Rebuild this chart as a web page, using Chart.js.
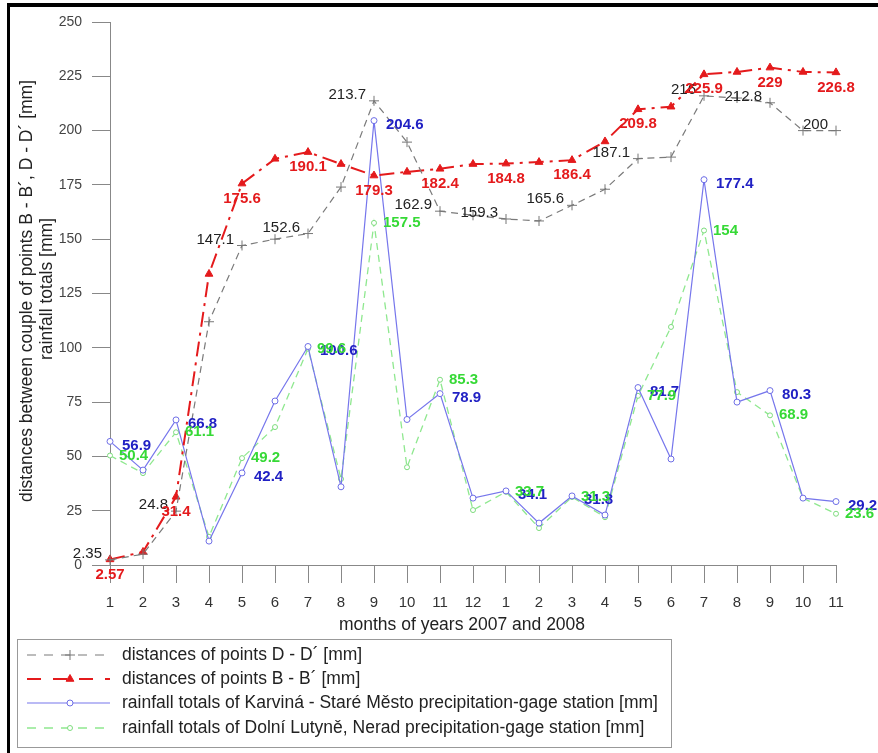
<!DOCTYPE html>
<html>
<head>
<meta charset="utf-8">
<script src="https://cdn.jsdelivr.net/npm/chart.js@4.4.1/dist/chart.umd.min.js"></script>
<style>
  html, body { margin: 0; padding: 0; background: #fff; }
  #wrap { width: 878px; height: 753px; position: relative; }
</style>
</head>
<body>
<div id="wrap"><canvas id="chart" width="878" height="753"></canvas></div>
<script>
// months of 2007 (1..12) followed by months of 2008 (1..11)
const months = ["1","2","3","4","5","6","7","8","9","10","11","12",
                "1","2","3","4","5","6","7","8","9","10","11"]

// distances of points D - D' [mm]
const distDD = [2.35, 5, 24.8, 112, 147.1, 150, 152.6, 174, 213.7, 194.7, 162.9, 161,
                159.3, 158.4, 165.6, 173, 187.1, 187.8, 216, 215, 212.8, 200, 200]
// distances of points B - B' [mm]
const distBB = [2.57, 6, 31.4, 134, 175.6, 187, 190.1, 184.6, 179.3, 181, 182.4, 184.6,
                184.8, 185.5, 186.4, 195, 209.8, 211, 225.9, 227, 229, 227, 226.8]
// rainfall totals, Karviná - Staré Město
const rainKarvina = [56.9, 43.7, 66.8, 11, 42.4, 75.5, 100.6, 36, 204.6, 67, 78.9, 30.8,
                     34.1, 19.3, 31.8, 23, 81.7, 48.8, 177.4, 75, 80.3, 30.8, 29.2]
// rainfall totals, Dolní Lutyně, Nerad
const rainLutyne = [50.4, 42.3, 61.1, 13, 49.2, 63.5, 99.6, 39.6, 157.5, 45, 85.3, 25.3,
                    33.7, 17, 31.3, 22, 77.9, 109.6, 154, 79.6, 68.9, 30.8, 23.6]

const yTicks = [0, 25, 50, 75, 100, 125, 150, 175, 200, 225, 250]

const FONT = "'Liberation Sans', Arial, sans-serif"

// labels drawn next to every second point of each series
const labelStyle = [
  { color: "#222",    bold: false, align: "right",  dx: -8, dy: -6 },
  { color: "#e41a1c", bold: true,  align: "center", dx: 0,  dy: 15 },
  { color: "#2121c4", bold: true,  align: "left",   dx: 12, dy: 4 },
  { color: "#36d936", bold: true,  align: "left",   dx: 9,  dy: 0 }
]

const pointLabels = {
  id: "pointLabels",
  afterDatasetsDraw(chart) {
    const ctx = chart.ctx
    ctx.save()
    ctx.textBaseline = "middle"
    chart.data.datasets.forEach((ds, i) => {
      const st = labelStyle[i]
      const meta = chart.getDatasetMeta(i)
      ctx.fillStyle = st.color
      ctx.font = (st.bold ? "bold " : "") + "15px " + FONT
      ctx.textAlign = st.align
      meta.data.forEach((pt, k) => {
        if (k % 2 !== 0) return
        ctx.fillText(String(ds.data[k]), pt.x + st.dx, pt.y + st.dy)
      })
    })
    ctx.restore()
  }
}

const frame = {
  id: "frame",
  afterDraw(chart) {
    const ctx = chart.ctx
    ctx.save()
    // black frame (top and left)
    ctx.fillStyle = "#000"
    ctx.fillRect(7, 3, 871, 4)
    ctx.fillRect(7, 3, 3, 750)

    // axis titles
    ctx.fillStyle = "#222"
    ctx.font = "17.5px " + FONT
    ctx.textAlign = "center"
    ctx.textBaseline = "middle"
    ctx.fillText("months of years 2007 and 2008", 462, 625)
    ctx.save()
    ctx.translate(27, 291)
    ctx.rotate(-Math.PI / 2)
    ctx.fillText("distances between couple of points B - B´, D - D´ [mm]", 0, 0)
    ctx.restore()
    ctx.save()
    ctx.translate(47, 289)
    ctx.rotate(-Math.PI / 2)
    ctx.fillText("rainfall totals [mm]", 0, 0)
    ctx.restore()

    // legend box
    ctx.strokeStyle = "#999"
    ctx.lineWidth = 1
    ctx.strokeRect(17.5, 639.5, 654, 108)
    const rows = [655, 679, 703, 728]
    ctx.textAlign = "left"
    chart.data.datasets.forEach((ds, i) => {
      const y = rows[i]
      ctx.save()
      ctx.strokeStyle = ds.borderColor
      ctx.lineWidth = ds.borderWidth
      ctx.setLineDash(ds.legendDash)
      ctx.beginPath()
      ctx.moveTo(27, y)
      ctx.lineTo(110, y)
      ctx.stroke()
      ctx.setLineDash([])
      ctx.fillStyle = ds.pointBackgroundColor
      ctx.strokeStyle = ds.pointBorderColor
      ctx.lineWidth = 1
      Chart.helpers.drawPoint(ctx, { pointStyle: ds.pointStyle, radius: ds.pointRadius, rotation: 0, borderWidth: 1 }, 70, y)
      ctx.restore()
      ctx.fillStyle = "#222"
      ctx.fillText(ds.label, 122, y)
    })
    ctx.restore()
  }
}

new Chart(document.getElementById("chart"), {
  type: "line",
  data: {
    labels: months,
    datasets: [
      {
        label: "distances of points D - D´ [mm]",
        data: distDD,
        borderColor: "#7a7a7a",
        borderWidth: 1.2,
        borderDash: [7, 5],
        legendDash: [9, 8],
        pointStyle: "cross",
        pointRadius: 5,
        pointBorderColor: "#777",
        pointBackgroundColor: "#777",
        pointBorderWidth: 1
      },
      {
        label: "distances of points B - B´ [mm]",
        data: distBB,
        borderColor: "#e41a1c",
        borderWidth: 2,
        borderDash: [15, 6, 3, 6],
        legendDash: [14, 12],
        pointStyle: "triangle",
        pointRadius: 4.5,
        pointBorderColor: "#e41a1c",
        pointBackgroundColor: "#e41a1c",
        pointBorderWidth: 1
      },
      {
        label: "rainfall totals of Karviná - Staré Město precipitation-gage station [mm]",
        data: rainKarvina,
        borderColor: "#7676ec",
        borderWidth: 1.2,
        borderDash: [],
        legendDash: [],
        pointStyle: "circle",
        pointRadius: 3,
        pointBorderColor: "#6e6ee6",
        pointBackgroundColor: "#fff",
        pointBorderWidth: 1
      },
      {
        label: "rainfall totals of Dolní Lutyně, Nerad precipitation-gage station [mm]",
        data: rainLutyne,
        borderColor: "#8fe88f",
        borderWidth: 1.3,
        borderDash: [7, 5],
        legendDash: [9, 8],
        pointStyle: "circle",
        pointRadius: 2.5,
        pointBorderColor: "#7ddc7d",
        pointBackgroundColor: "#fff",
        pointBorderWidth: 1
      }
    ]
  },
  options: {
    responsive: false,
    animation: false,
    devicePixelRatio: 1,
    layout: { padding: { left: 0, right: 42, top: 22, bottom: 0 } },
    elements: { line: { tension: 0, fill: false } },
    plugins: {
      legend: { display: false },
      tooltip: { enabled: false },
      title: { display: false }
    },
    scales: {
      x: {
        type: "category",
        offset: false,
        afterFit: (scale) => { scale.height = 188 },
        grid: { drawOnChartArea: false, drawTicks: true, tickLength: 18, tickColor: "#888" },
        border: { display: true, color: "#888", width: 1 },
        ticks: {
          autoSkip: false, maxRotation: 0, padding: 11,
          color: "#333", font: { family: FONT, size: 15 }
        }
      },
      y: {
        min: 0,
        max: 250,
        afterFit: (scale) => { scale.width = 110 },
        afterBuildTicks: (scale) => { scale.ticks = yTicks.map((v) => ({ value: v })) },
        grid: { drawOnChartArea: false, drawTicks: true, tickLength: 18, tickColor: "#888" },
        border: { display: true, color: "#888", width: 1 },
        ticks: {
          padding: 10,
          color: "#444", font: { family: FONT, size: 14 }
        }
      }
    }
  },
  plugins: [pointLabels, frame]
})
</script>
</body>
</html>
